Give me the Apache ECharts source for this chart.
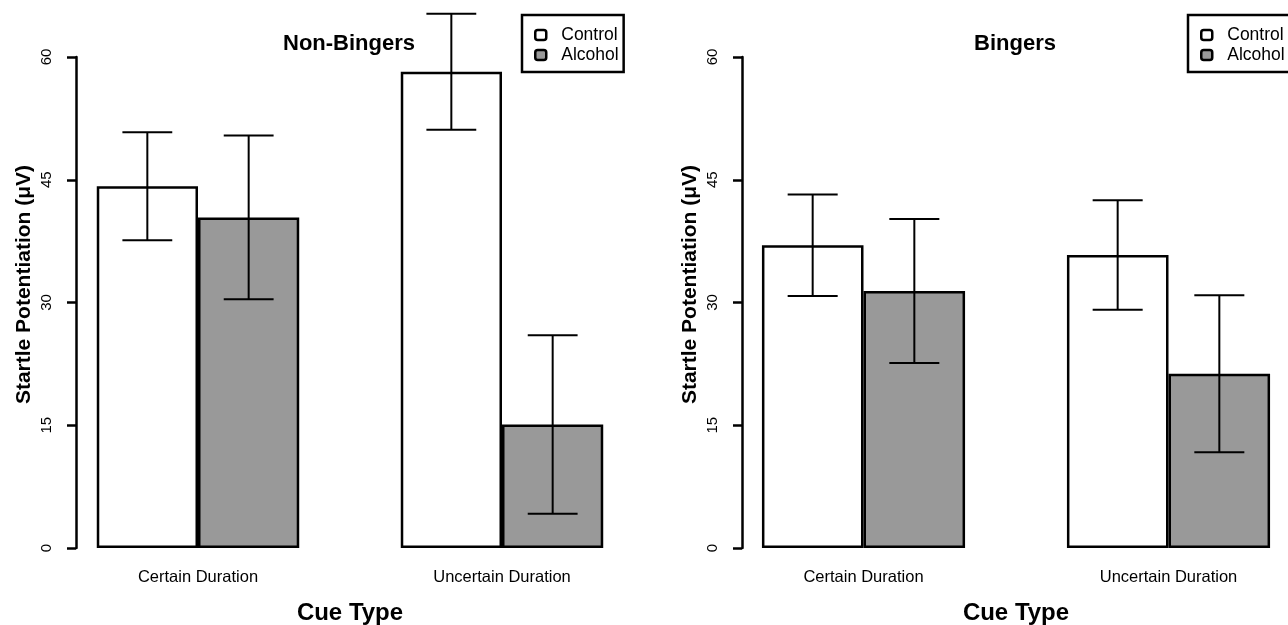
<!DOCTYPE html>
<html>
<head>
<meta charset="utf-8">
<script src="https://cdn.jsdelivr.net/npm/echarts@6/dist/echarts.min.js"></script>
<style>
html,body{margin:0;padding:0;background:#fff;}
#chart{width:1288px;height:625px;}
</style>
</head>
<body>
<div id="chart"></div>
<script>
const categories = ['Certain Duration', 'Uncertain Duration'];
const seriesNames = ['Control', 'Alcohol'];
const panelTitles = ['Non-Bingers', 'Bingers'];
const yTicks = [0, 15, 30, 45, 60];

const nonBingersControl = [44.2, 58.2];
const nonBingersControlErr = [6.6, 7.1];
const nonBingersAlcohol = [40.4, 15.1];
const nonBingersAlcoholErr = [10.0, 10.9];

const bingersControl = [37.0, 35.8];
const bingersControlErr = [6.2, 6.7];
const bingersAlcohol = [31.4, 21.3];
const bingersAlcoholErr = [8.8, 9.6];

const FONT = 'Liberation Sans, Arial, sans-serif';
const fills = { Control: '#ffffff', Alcohol: '#999999' };

function errRender(sign) {
  return function (params, api) {
    const i = api.value(0), m = api.value(1), e = api.value(2);
    const band = api.size([1, 0])[0];
    const dx = sign * band / 6;
    const top = api.coord([i, m + e]);
    const bot = api.coord([i, m - e]);
    const x = top[0] + dx;
    const hw = band * 0.082;
    const st = { stroke: '#000', lineWidth: 2 };
    return {
      type: 'group',
      children: [
        { type: 'line', shape: { x1: x, y1: top[1], x2: x, y2: bot[1] }, style: st },
        { type: 'line', shape: { x1: x - hw, y1: top[1], x2: x + hw, y2: top[1] }, style: st },
        { type: 'line', shape: { x1: x - hw, y1: bot[1], x2: x + hw, y2: bot[1] }, style: st }
      ]
    };
  };
}

const panels = [
  { left: 46, width: 608, off: -30, ctrl: nonBingersControl, ctrlE: nonBingersControlErr, alc: nonBingersAlcohol, alcE: nonBingersAlcoholErr },
  { left: 711, width: 610, off: -31, ctrl: bingersControl, ctrlE: bingersControlErr, alc: bingersAlcohol, alcE: bingersAlcoholErr }
];

const grid = [], xAxis = [], yAxis = [], series = [], title = [], legend = [];
panels.forEach((p, k) => {
  grid.push({ left: p.left, width: p.width, top: 57, height: 491, containLabel: false, outerBoundsMode: 'none' });
  xAxis.push({
    type: 'category', gridIndex: k, data: categories,
    axisLine: { show: false }, axisTick: { show: false },
    axisLabel: { margin: 21, fontSize: 16.5, color: '#000', fontFamily: FONT },
    name: 'Cue Type', nameLocation: 'middle', nameGap: 53,
    nameTextStyle: { fontSize: 24, fontWeight: 'bold', color: '#000', fontFamily: FONT }
  });
  yAxis.push({
    type: 'value', gridIndex: k, min: yTicks[0], max: yTicks[yTicks.length - 1], interval: 15,
    offset: p.off,
    splitLine: { show: false },
    axisLine: { show: true, lineStyle: { color: '#000', width: 2.5 } },
    axisTick: { show: true, length: 9, lineStyle: { color: '#000', width: 2.5 } },
    axisLabel: { rotate: 90, margin: 22, fontSize: 15, color: '#000', fontFamily: FONT },
    name: 'Startle Potentiation (\u03BCV)', nameLocation: 'middle', nameGap: 41, nameRotate: 90,
    nameTextStyle: { fontSize: 21, fontWeight: 'bold', color: '#000', fontFamily: FONT, padding: [0, 0, 0, 36] }
  });
  const vals = [p.ctrl, p.alc], errs = [p.ctrlE, p.alcE];
  seriesNames.forEach((nm, j) => {
    series.push({
      type: 'bar', name: nm, xAxisIndex: k, yAxisIndex: k, data: vals[j],
      barWidth: '33.3%', barGap: '0%',
      itemStyle: { color: fills[nm], borderColor: '#000', borderWidth: 2.5 },
      emphasis: { disabled: true }
    });
  });
  seriesNames.forEach((nm, j) => {
    series.push({
      type: 'custom', name: nm + ' err', xAxisIndex: k, yAxisIndex: k, clip: false, z: 5,
      data: vals[j].map((v, i) => [i, v, errs[j][i]]),
      renderItem: errRender(j === 0 ? -1 : 1)
    });
  });
  title.push({
    text: panelTitles[k], left: k === 0 ? 349 : 1015, top: 33, textAlign: 'center', padding: 0,
    textStyle: { fontSize: 22, fontWeight: 'bold', color: '#000', fontFamily: FONT }
  });
  legend.push({
    data: seriesNames, orient: 'vertical', left: k === 0 ? 522 : 1188, top: 15,
    borderColor: '#000', borderWidth: 2.5, borderRadius: 0,
    padding: [11, 5, 8, 12], itemWidth: 11, itemHeight: 10, itemGap: 2, icon: 'roundRect',
    selectedMode: false,
    itemStyle: { borderWidth: 2.5 },
    textStyle: { fontSize: 17.5, color: '#000', fontFamily: FONT, padding: [0, 0, 0, 10] }
  });
});

const chart = echarts.init(document.getElementById('chart'), null, { renderer: 'canvas' });
chart.setOption({
  animation: false,
  backgroundColor: '#fff',
  title, legend, grid, xAxis, yAxis, series
});
</script>
</body>
</html>
